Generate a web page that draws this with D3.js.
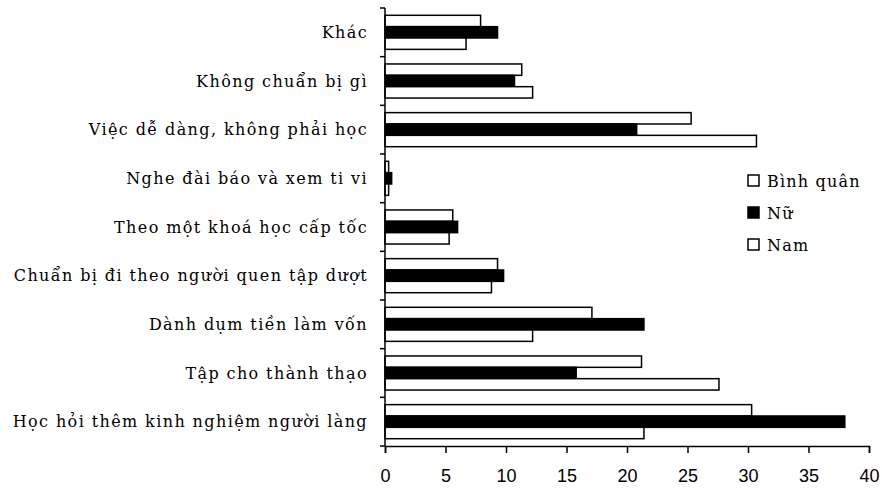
<!DOCTYPE html>
<html>
<head>
<meta charset="utf-8">
<script src="https://cdn.jsdelivr.net/npm/d3@7"></script>
<style>
body { margin: 0; background: #fff; }
</style>
</head>
<body>
<div id="chart"></div>
<script>
"use strict";

// categories, top to bottom
var categories = [
    "Khác",
    "Không chuẩn bị gì",
    "Việc dễ dàng, không phải học",
    "Nghe đài báo và xem ti vi",
    "Theo một khoá học cấp tốc",
    "Chuẩn bị đi theo người quen tập dượt",
    "Dành dụm tiền làm vốn",
    "Tập cho thành thạo",
    "Học hỏi thêm kinh nghiệm người làng"
];
var series = ["Bình quân", "Nữ", "Nam"];
var binh_quan = [7.9, 11.3, 25.3, 0.3, 5.6, 9.3, 17.1, 21.2, 30.3];
var nu = [9.3, 10.7, 20.8, 0.55, 6.0, 9.8, 21.4, 15.8, 38.0];
var nam = [6.7, 12.2, 30.7, 0.3, 5.3, 8.8, 12.2, 27.6, 21.4];
var xticks = [0, 5, 10, 15, 20, 25, 30, 35, 40];

var fills = { "Bình quân": "#fff", "Nữ": "#000", "Nam": "#fff" };
var values = { "Bình quân": binh_quan, "Nữ": nu, "Nam": nam };

var serif = "'DejaVu Serif', serif";
var sans = "'Liberation Sans', Arial, sans-serif";

var width = 882, height = 490;
var svg = d3.select("#chart").append("svg")
    .attr("width", width).attr("height", height);

var x = d3.scaleLinear().domain([0, 40]).range([385, 869]);
var y = d3.scaleBand().domain(categories).range([8, 446]).paddingInner(0.3).paddingOuter(0.15);
var ys = d3.scaleBand().domain(series).range([0, y.bandwidth()]);

// bars
categories.forEach(function(cat, i) {
    series.forEach(function(s) {
        svg.append("rect")
            .attr("x", x(0))
            .attr("y", y(cat) + ys(s))
            .attr("width", x(values[s][i]) - x(0))
            .attr("height", ys.bandwidth())
            .attr("fill", fills[s])
            .attr("stroke", "#000")
            .attr("stroke-width", 1.5);
    });
});

// y axis with category ticks between bands
svg.append("line")
    .attr("x1", x(0)).attr("x2", x(0))
    .attr("y1", 8).attr("y2", 446)
    .attr("stroke", "#000").attr("stroke-width", 1.5);
d3.range(categories.length + 1).forEach(function(i) {
    var yy = 8 + i * (438 / categories.length);
    svg.append("line")
        .attr("x1", x(0) - 5).attr("x2", x(0))
        .attr("y1", yy).attr("y2", yy)
        .attr("stroke", "#000").attr("stroke-width", 1.5);
});

var cat = svg.append("g");
categories.forEach(function(c) {
    cat.append("text")
        .attr("x", 368)
        .attr("y", y(c) + y.bandwidth() / 2)
        .attr("dy", "0.35em")
        .attr("text-anchor", "end")
        .style("font-family", serif)
        .style("font-size", "16px")
        .style("letter-spacing", "1.4px")
        .text(c);
});

// x axis
var xa = svg.append("g")
    .attr("transform", "translate(0,446)")
    .call(d3.axisBottom(x).tickValues(xticks).tickSize(7).tickPadding(16));
xa.select(".domain").attr("stroke-width", 1.5);
xa.selectAll(".tick line").attr("stroke-width", 1.5);
xa.selectAll(".tick text")
    .attr("fill", "#000")
    .style("font-family", sans)
    .style("font-size", "18px");

// legend
var legend = svg.append("g");
series.forEach(function(s, i) {
    var ly = 181 + i * 32;
    legend.append("rect")
        .attr("x", 748).attr("y", ly - 6)
        .attr("width", 11).attr("height", 11)
        .attr("fill", fills[s]).attr("stroke", "#000").attr("stroke-width", 1.5);
    legend.append("text")
        .attr("x", 767).attr("y", ly)
        .attr("dy", "0.35em")
        .style("font-family", serif)
        .style("font-size", "16px")
        .style("letter-spacing", "1.2px")
        .text(s);
});
</script>
</body>
</html>
